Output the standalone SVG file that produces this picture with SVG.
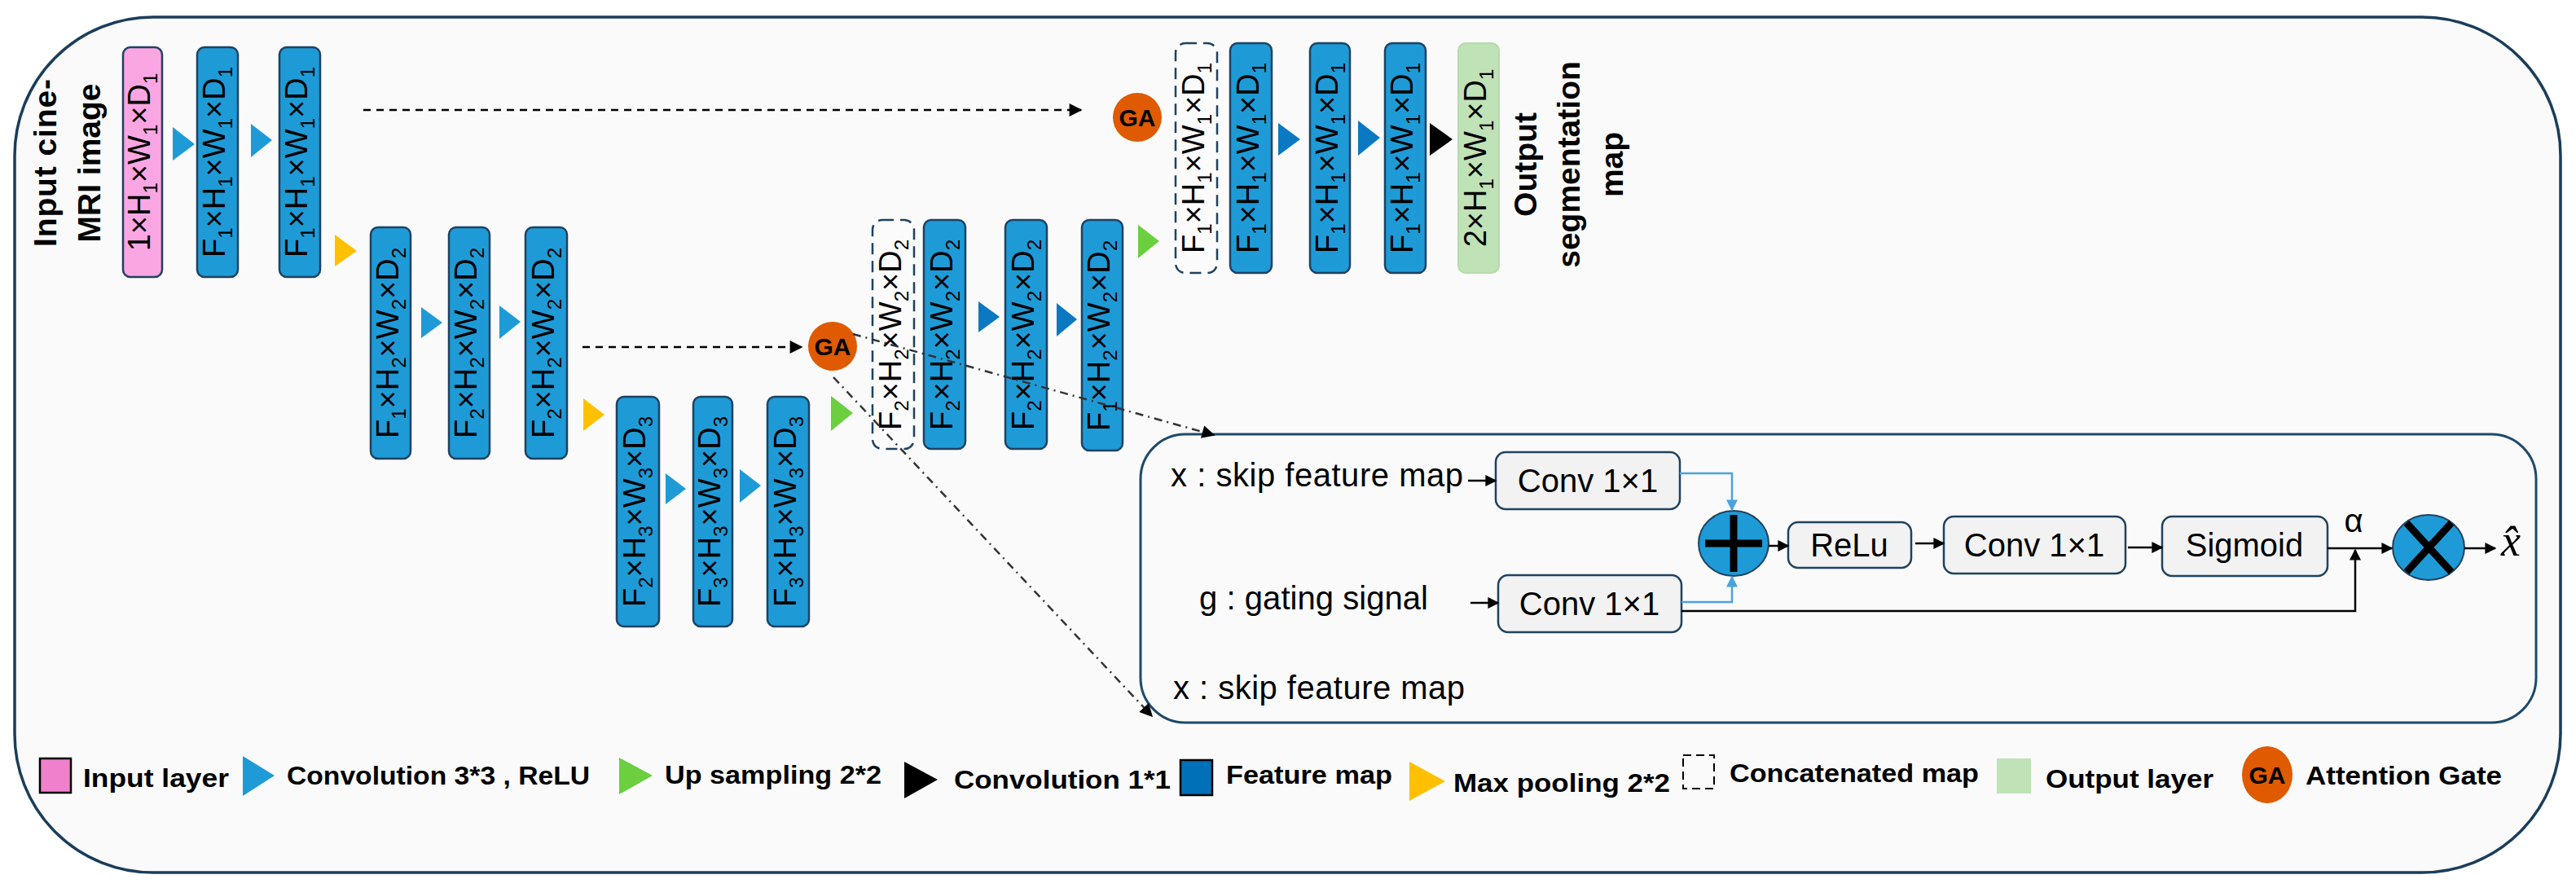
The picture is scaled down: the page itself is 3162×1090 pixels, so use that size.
<svg xmlns="http://www.w3.org/2000/svg" width="3162" height="1090" viewBox="0 0 3162 1090">
<defs>
<style>
.fm{fill:#1e9bd7;stroke:#1f4260;stroke-width:2.5}
.cc{fill:#fbfbfb;stroke:#1f4260;stroke-width:2.5;stroke-dasharray:14 8}
.lbl{font-family:"Liberation Sans",Arial,sans-serif;font-size:38px;fill:#000;text-anchor:middle}
.s{font-size:24px}
.tc{fill:#1e9bd7}
.td{fill:#0b78c2}
.ty{fill:#ffc000}
.tg{fill:#6bcf3f}
.tb{fill:#000}
.ga{fill:#df5a00}
.gat{font-family:"Liberation Sans",Arial,sans-serif;font-weight:bold;font-size:30px;text-anchor:middle;fill:#000}
.bt{font-family:"Liberation Sans",Arial,sans-serif;font-weight:bold;font-size:39px;text-anchor:middle;fill:#000}
.lg{font-family:"Liberation Sans",Arial,sans-serif;font-weight:bold;font-size:32px;fill:#000}
.at{font-family:"Liberation Sans",Arial,sans-serif;font-size:40px;fill:#000}
.ab{fill:#f2f2f2;stroke:#1f4260;stroke-width:2.5}
.ln{fill:none;stroke:#000;stroke-width:2.5}
.bl{fill:none;stroke:#4aa3df;stroke-width:2.5}
.dsh{fill:none;stroke:#000;stroke-width:2.5;stroke-dasharray:9 7}
.dd{fill:none;stroke:#333;stroke-width:2.5;stroke-dasharray:10 6 2 6}
</style>
<marker id="ah" viewBox="0 0 10 10" refX="9" refY="5" markerWidth="18" markerHeight="16" markerUnits="userSpaceOnUse" orient="auto"><path d="M0,0 L10,5 L0,10 z" fill="#000"/></marker>
<marker id="ahs" viewBox="0 0 10 10" refX="9" refY="5" markerWidth="14" markerHeight="14" markerUnits="userSpaceOnUse" orient="auto"><path d="M0,0 L10,5 L0,10 z" fill="#000"/></marker>
<marker id="ahb" viewBox="0 0 10 10" refX="9" refY="5" markerWidth="14" markerHeight="14" markerUnits="userSpaceOnUse" orient="auto"><path d="M0,0 L10,5 L0,10 z" fill="#4aa3df"/></marker>
</defs>
<rect x="0" y="0" width="3162" height="1090" fill="#ffffff"/>
<rect id="frame" x="18" y="21" width="3125" height="1050" rx="170" ry="170" fill="#fafafa" stroke="#1b3d5a" stroke-width="3.5"/>

<g id="input-label">
<text class="bt" transform="translate(69,200) rotate(-90)" textLength="206">Input  cine-</text>
<text class="bt" transform="translate(123,200) rotate(-90)">MRI image</text>
</g>

<g id="enc1-input"><rect x="151" y="58" width="48" height="282" rx="9" fill="#f9a6e3" stroke="#1f4260" stroke-width="2.5"/>
<text class="lbl" transform="translate(175,199) rotate(-90)" y="9">1×H<tspan class="s" dy="9">1</tspan><tspan dy="-9">×W</tspan><tspan class="s" dy="9">1</tspan><tspan dy="-9">×D</tspan><tspan class="s" dy="9">1</tspan></text></g>
<g id="enc1-b"><rect class="fm" x="242" y="58" width="50" height="282" rx="9"/>
<text class="lbl" transform="translate(267,199) rotate(-90)" y="9">F<tspan class="s" dy="9">1</tspan><tspan dy="-9">×H</tspan><tspan class="s" dy="9">1</tspan><tspan dy="-9">×W</tspan><tspan class="s" dy="9">1</tspan><tspan dy="-9">×D</tspan><tspan class="s" dy="9">1</tspan></text></g>
<g id="enc1-c"><rect class="fm" x="343" y="58" width="50" height="282" rx="9"/>
<text class="lbl" transform="translate(368,199) rotate(-90)" y="9">F<tspan class="s" dy="9">1</tspan><tspan dy="-9">×H</tspan><tspan class="s" dy="9">1</tspan><tspan dy="-9">×W</tspan><tspan class="s" dy="9">1</tspan><tspan dy="-9">×D</tspan><tspan class="s" dy="9">1</tspan></text></g>

<g id="enc2-a"><rect class="fm" x="455" y="279" width="49" height="284" rx="9"/>
<text class="lbl" transform="translate(479.5,421) rotate(-90)" y="9">F<tspan class="s" dy="9">1</tspan><tspan dy="-9">×H</tspan><tspan class="s" dy="9">2</tspan><tspan dy="-9">×W</tspan><tspan class="s" dy="9">2</tspan><tspan dy="-9">×D</tspan><tspan class="s" dy="9">2</tspan></text></g>
<g id="enc2-b"><rect class="fm" x="551" y="279" width="50" height="284" rx="9"/>
<text class="lbl" transform="translate(576,421) rotate(-90)" y="9">F<tspan class="s" dy="9">2</tspan><tspan dy="-9">×H</tspan><tspan class="s" dy="9">2</tspan><tspan dy="-9">×W</tspan><tspan class="s" dy="9">2</tspan><tspan dy="-9">×D</tspan><tspan class="s" dy="9">2</tspan></text></g>
<g id="enc2-c"><rect class="fm" x="645" y="279" width="51" height="284" rx="9"/>
<text class="lbl" transform="translate(670.5,421) rotate(-90)" y="9">F<tspan class="s" dy="9">2</tspan><tspan dy="-9">×H</tspan><tspan class="s" dy="9">2</tspan><tspan dy="-9">×W</tspan><tspan class="s" dy="9">2</tspan><tspan dy="-9">×D</tspan><tspan class="s" dy="9">2</tspan></text></g>

<g id="enc3-a"><rect class="fm" x="757" y="487" width="52" height="282" rx="9"/>
<text class="lbl" transform="translate(783,628) rotate(-90)" y="9">F<tspan class="s" dy="9">2</tspan><tspan dy="-9">×H</tspan><tspan class="s" dy="9">3</tspan><tspan dy="-9">×W</tspan><tspan class="s" dy="9">3</tspan><tspan dy="-9">×D</tspan><tspan class="s" dy="9">3</tspan></text></g>
<g id="enc3-b"><rect class="fm" x="851" y="487" width="48" height="282" rx="9"/>
<text class="lbl" transform="translate(875,628) rotate(-90)" y="9">F<tspan class="s" dy="9">3</tspan><tspan dy="-9">×H</tspan><tspan class="s" dy="9">3</tspan><tspan dy="-9">×W</tspan><tspan class="s" dy="9">3</tspan><tspan dy="-9">×D</tspan><tspan class="s" dy="9">3</tspan></text></g>
<g id="enc3-c"><rect class="fm" x="942" y="487" width="51" height="282" rx="9"/>
<text class="lbl" transform="translate(967.5,628) rotate(-90)" y="9">F<tspan class="s" dy="9">3</tspan><tspan dy="-9">×H</tspan><tspan class="s" dy="9">3</tspan><tspan dy="-9">×W</tspan><tspan class="s" dy="9">3</tspan><tspan dy="-9">×D</tspan><tspan class="s" dy="9">3</tspan></text></g>

<g id="dec2-concat"><rect class="cc" x="1071" y="270" width="51" height="281" rx="12"/>
<text class="lbl" transform="translate(1096.5,411) rotate(-90)" y="9">F<tspan class="s" dy="9">2</tspan><tspan dy="-9">×H</tspan><tspan class="s" dy="9">2</tspan><tspan dy="-9">×W</tspan><tspan class="s" dy="9">2</tspan><tspan dy="-9">×D</tspan><tspan class="s" dy="9">2</tspan></text></g>
<g id="dec2-a"><rect class="fm" x="1134" y="270" width="51" height="281" rx="9"/>
<text class="lbl" transform="translate(1159.5,411) rotate(-90)" y="9">F<tspan class="s" dy="9">2</tspan><tspan dy="-9">×H</tspan><tspan class="s" dy="9">2</tspan><tspan dy="-9">×W</tspan><tspan class="s" dy="9">2</tspan><tspan dy="-9">×D</tspan><tspan class="s" dy="9">2</tspan></text></g>
<g id="dec2-b"><rect class="fm" x="1234" y="270" width="51" height="281" rx="9"/>
<text class="lbl" transform="translate(1259.5,411) rotate(-90)" y="9">F<tspan class="s" dy="9">2</tspan><tspan dy="-9">×H</tspan><tspan class="s" dy="9">2</tspan><tspan dy="-9">×W</tspan><tspan class="s" dy="9">2</tspan><tspan dy="-9">×D</tspan><tspan class="s" dy="9">2</tspan></text></g>
<g id="dec2-c"><rect class="fm" x="1328" y="270" width="50" height="283" rx="9"/>
<text class="lbl" transform="translate(1353,412) rotate(-90)" y="9">F<tspan class="s" dy="9">1</tspan><tspan dy="-9">×H</tspan><tspan class="s" dy="9">2</tspan><tspan dy="-9">×W</tspan><tspan class="s" dy="9">2</tspan><tspan dy="-9">×D</tspan><tspan class="s" dy="9">2</tspan></text></g>

<g id="dec1-concat"><rect class="cc" x="1443" y="53" width="51" height="282" rx="12"/>
<text class="lbl" transform="translate(1468.5,194) rotate(-90)" y="9">F<tspan class="s" dy="9">1</tspan><tspan dy="-9">×H</tspan><tspan class="s" dy="9">1</tspan><tspan dy="-9">×W</tspan><tspan class="s" dy="9">1</tspan><tspan dy="-9">×D</tspan><tspan class="s" dy="9">1</tspan></text></g>
<g id="dec1-a"><rect class="fm" x="1510" y="53" width="51" height="282" rx="9"/>
<text class="lbl" transform="translate(1535.5,194) rotate(-90)" y="9">F<tspan class="s" dy="9">1</tspan><tspan dy="-9">×H</tspan><tspan class="s" dy="9">1</tspan><tspan dy="-9">×W</tspan><tspan class="s" dy="9">1</tspan><tspan dy="-9">×D</tspan><tspan class="s" dy="9">1</tspan></text></g>
<g id="dec1-b"><rect class="fm" x="1608" y="53" width="49" height="282" rx="9"/>
<text class="lbl" transform="translate(1632.5,194) rotate(-90)" y="9">F<tspan class="s" dy="9">1</tspan><tspan dy="-9">×H</tspan><tspan class="s" dy="9">1</tspan><tspan dy="-9">×W</tspan><tspan class="s" dy="9">1</tspan><tspan dy="-9">×D</tspan><tspan class="s" dy="9">1</tspan></text></g>
<g id="dec1-c"><rect class="fm" x="1700" y="53" width="50" height="282" rx="9"/>
<text class="lbl" transform="translate(1725,194) rotate(-90)" y="9">F<tspan class="s" dy="9">1</tspan><tspan dy="-9">×H</tspan><tspan class="s" dy="9">1</tspan><tspan dy="-9">×W</tspan><tspan class="s" dy="9">1</tspan><tspan dy="-9">×D</tspan><tspan class="s" dy="9">1</tspan></text></g>
<g id="output"><rect x="1790" y="53" width="50" height="282" rx="9" fill="#bfe2b7" stroke="#b5dbad" stroke-width="2"/>
<text class="lbl" transform="translate(1815,194) rotate(-90)" y="9">2×H<tspan class="s" dy="9">1</tspan><tspan dy="-9">×W</tspan><tspan class="s" dy="9">1</tspan><tspan dy="-9">×D</tspan><tspan class="s" dy="9">1</tspan></text></g>
<g id="output-label">
<text class="bt" transform="translate(1886,202) rotate(-90)">Output</text>
<text class="bt" transform="translate(1939,202) rotate(-90)">segmentation</text>
<text class="bt" transform="translate(1992,202) rotate(-90)">map</text>
</g>

<g id="ops">
<polygon class="tc" points="212,156 239,177 212,197"/>
<polygon class="tc" points="308,152 334,172 308,193"/>
<polygon class="ty" points="411,288 438,308 411,327"/>
<polygon class="tc" points="517,377 543,396 517,415"/>
<polygon class="tc" points="613,375 639,395 613,416"/>
<polygon class="ty" points="716,489 742,509 716,529"/>
<polygon class="tc" points="817,581 842,600 817,619"/>
<polygon class="tc" points="908,576 934,596 908,617"/>
<polygon class="tg" points="1020,486 1047,507 1020,529"/>
<polygon class="td" points="1201,370 1227,389 1201,408"/>
<polygon class="td" points="1297,372 1322,392 1297,413"/>
<polygon class="tg" points="1397,276 1423,296 1397,317"/>
<polygon class="td" points="1569,151 1596,171 1569,191"/>
<polygon class="td" points="1667,148 1694,169 1667,191"/>
<polygon class="tb" points="1755,151 1783,171 1755,191"/>
</g>

<g id="ga-2"><circle class="ga" cx="1022" cy="425" r="30"/><text class="gat" x="1022" y="436">GA</text></g>
<g id="ga-1"><circle class="ga" cx="1396" cy="144" r="30"/><text class="gat" x="1396" y="155">GA</text></g>

<g id="attention-gate">
<rect x="1400" y="533" width="1713" height="354" rx="55" ry="55" fill="#fafafa" stroke="#1f4a6a" stroke-width="3"/>
<text class="at" x="1437" y="597" textLength="359">x : skip feature map</text>
<text class="at" x="1472" y="748" textLength="281">g : gating signal</text>
<text class="at" x="1440" y="858" textLength="358">x : skip feature map</text>
<g id="conv-x"><rect class="ab" x="1836" y="555" width="226" height="70" rx="12"/><text class="at" x="1949" y="604" text-anchor="middle">Conv 1×1</text></g>
<g id="conv-g"><rect class="ab" x="1839" y="706" width="225" height="70" rx="12"/><text class="at" x="1951" y="755" text-anchor="middle">Conv 1×1</text></g>
<g id="add"><ellipse cx="2128" cy="667" rx="43" ry="40" fill="#1e9bd7" stroke="#1f4260" stroke-width="2"/><path d="M2093,667 H2163 M2128,632 V702" stroke="#000" stroke-width="9"/></g>
<g id="relu"><rect class="ab" x="2195" y="641" width="151" height="56" rx="12"/><text class="at" x="2270" y="683" text-anchor="middle">ReLu</text></g>
<g id="conv-psi"><rect class="ab" x="2386" y="634" width="223" height="70" rx="12"/><text class="at" x="2497" y="683" text-anchor="middle">Conv 1×1</text></g>
<g id="sigmoid"><rect class="ab" x="2654" y="634" width="203" height="73" rx="12"/><text class="at" x="2755" y="683" text-anchor="middle">Sigmoid</text></g>
<text class="at" x="2889" y="653" text-anchor="middle" font-size="40">α</text>
<g id="mul"><ellipse cx="2981" cy="672" rx="44" ry="40" fill="#1e9bd7" stroke="#1f4260" stroke-width="2"/><path d="M2954,642 L3009,702 M3009,642 L2954,702" stroke="#000" stroke-width="9"/></g>
<text x="3082" y="682" text-anchor="middle" font-family="Liberation Serif, serif" font-style="italic" font-size="54">x̂</text>
</g>

<g id="legend">
<rect x="49" y="931" width="38" height="42" fill="#ef80cc" stroke="#000" stroke-width="2.5"/>
<text class="lg" x="102" y="966" textLength="179" lengthAdjust="spacingAndGlyphs">Input layer</text>
<polygon class="tc" points="298,928 337,952 298,977"/>
<text class="lg" x="352" y="963" textLength="372" lengthAdjust="spacingAndGlyphs">Convolution 3*3 , ReLU</text>
<polygon class="tg" points="760,930 801,952 760,975"/>
<text class="lg" x="816" y="962" textLength="266" lengthAdjust="spacingAndGlyphs">Up sampling 2*2</text>
<polygon class="tb" points="1110,935 1151,957 1110,980"/>
<text class="lg" x="1171" y="968" textLength="266" lengthAdjust="spacingAndGlyphs">Convolution 1*1</text>
<rect x="1449" y="933" width="39" height="43" fill="#0070b8" stroke="#000" stroke-width="2.5"/>
<text class="lg" x="1505" y="962" textLength="204" lengthAdjust="spacingAndGlyphs">Feature map</text>
<polygon class="ty" points="1730,935 1774,959 1730,983"/>
<text class="lg" x="1784" y="972" textLength="266" lengthAdjust="spacingAndGlyphs">Max pooling 2*2</text>
<rect x="2066" y="927" width="38" height="41" fill="none" stroke="#000" stroke-width="2" stroke-dasharray="10 6"/>
<text class="lg" x="2123" y="960" textLength="306" lengthAdjust="spacingAndGlyphs">Concatenated map</text>
<rect x="2451" y="931" width="42" height="43" fill="#bfe2b7"/>
<text class="lg" x="2511" y="967" textLength="206" lengthAdjust="spacingAndGlyphs">Output layer</text>
<ellipse class="ga" cx="2783" cy="951" rx="31" ry="35"/>
<text class="gat" x="2783" y="962">GA</text>
<text class="lg" x="2830" y="963" textLength="241" lengthAdjust="spacingAndGlyphs">Attention Gate</text>
</g>

<g id="connectors">
<line class="dsh" x1="446" y1="135" x2="1327" y2="135" marker-end="url(#ah)"/>
<line class="dsh" x1="715" y1="426" x2="984" y2="426" marker-end="url(#ah)"/>
<line class="dd" x1="1047" y1="410" x2="1490" y2="534" marker-end="url(#ah)"/>
<line class="dd" x1="1023" y1="463" x2="1414" y2="879" marker-end="url(#ah)"/>
<line class="ln" x1="1802" y1="590" x2="1836" y2="590" marker-end="url(#ahs)"/>
<line class="ln" x1="1805" y1="740" x2="1839" y2="740" marker-end="url(#ahs)"/>
<polyline class="bl" points="2062,581 2126,581 2126,626" marker-end="url(#ahb)"/>
<polyline class="bl" points="2064,739 2126,739 2126,708" marker-end="url(#ahb)"/>
<line class="ln" x1="2171" y1="670" x2="2195" y2="670" marker-end="url(#ahs)"/>
<line class="ln" x1="2351" y1="667" x2="2386" y2="667" marker-end="url(#ahs)"/>
<line class="ln" x1="2612" y1="672" x2="2654" y2="672" marker-end="url(#ahs)"/>
<line class="ln" x1="2857" y1="673" x2="2936" y2="673" marker-end="url(#ahs)"/>
<polyline class="ln" points="2064,750 2891,750 2891,675" marker-end="url(#ahs)"/>
<line class="ln" x1="3025" y1="673" x2="3063" y2="673" marker-end="url(#ahs)"/>
</g>
</svg>
